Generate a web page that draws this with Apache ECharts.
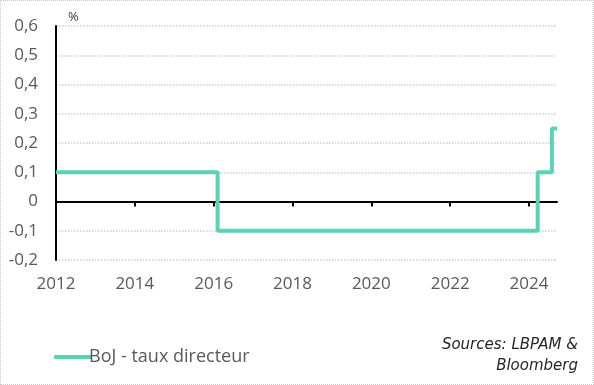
<!DOCTYPE html>
<html><head><meta charset="utf-8">
<script src="https://cdn.jsdelivr.net/npm/echarts@6/dist/echarts.min.js"></script>
<style>
html,body{margin:0;padding:0;background:#fff;}
#c{position:absolute;left:0;top:0;width:592px;height:383px;border:1px dotted #c8c8c8;}
</style></head><body>
<div id="c"></div>
<script>
// BoJ policy rate change dates (decimal years) and levels
const dates = [2012.0, 2016.1, 2024.22, 2024.58, 2024.71];
const rates = [0.1, -0.1, 0.1, 0.25, 0.25];
const yTicks = [-0.2, -0.1, 0, 0.1, 0.2, 0.3, 0.4, 0.5, 0.6];
const xTicks = [2012, 2014, 2016, 2018, 2020, 2022, 2024];
const seriesName = 'BoJ - taux directeur';

const chart = echarts.init(document.getElementById('c'));
const font = '"Open Sans", sans-serif';
chart.setOption({
  animation:false,
  grid:{left:55,right:36,top:25,bottom:124},
  legend:{left:48,top:342,itemWidth:38,itemHeight:4,itemGap:10,
    icon:'roundRect',
    textStyle:{color:'#595959',fontSize:18,fontFamily:font,padding:[0,0,0,-8]},
    data:[{name:seriesName}]},
  graphic:[
    {type:'text',left:67,top:10,style:{text:'%',fill:'#404040',fontSize:13,fontFamily:font}},
    {type:'text',right:15,top:337,style:{text:'Sources: LBPAM &',fill:'#262626',fontSize:15,fontStyle:'italic',fontFamily:'"DejaVu Sans", sans-serif'}},
    {type:'text',right:15,top:358,style:{text:'Bloomberg',fill:'#262626',fontSize:15,fontStyle:'italic',fontFamily:'"DejaVu Sans", sans-serif'}}
  ],
  xAxis:{type:'value',min:2012,max:2024.71,interval:2,
    axisLine:{onZero:true,lineStyle:{color:'#000',width:2}},
    axisTick:{show:true,length:5,inside:false,lineStyle:{color:'#000',width:2}},
    splitLine:{show:false},
    axisLabel:{color:'#595959',fontSize:17,fontFamily:font,margin:16,
      showMaxLabel:false,
      formatter:v=>xTicks.includes(v)?String(v):''}
  },
  yAxis:{type:'value',min:-0.2,max:0.6,interval:0.1,
    axisLine:{show:true,lineStyle:{color:'#000',width:2}},
    axisTick:{show:false},
    splitLine:{show:true,lineStyle:{color:'#d0d0d0',type:'dotted',width:1.5}},
    axisLabel:{color:'#595959',fontSize:17,fontFamily:font,margin:18,
      formatter:v=>{const r=Math.round(v*10)/10; return r===0?'0':String(r).replace('.',',');}}
  },
  series:[{name:seriesName,type:'line',step:'end',symbol:'none',
    lineStyle:{color:'#5ad2b5',width:4},itemStyle:{color:'#5ad2b5'},
    data:dates.map((d,i)=>[d,rates[i]])}]
});
</script></body></html>
